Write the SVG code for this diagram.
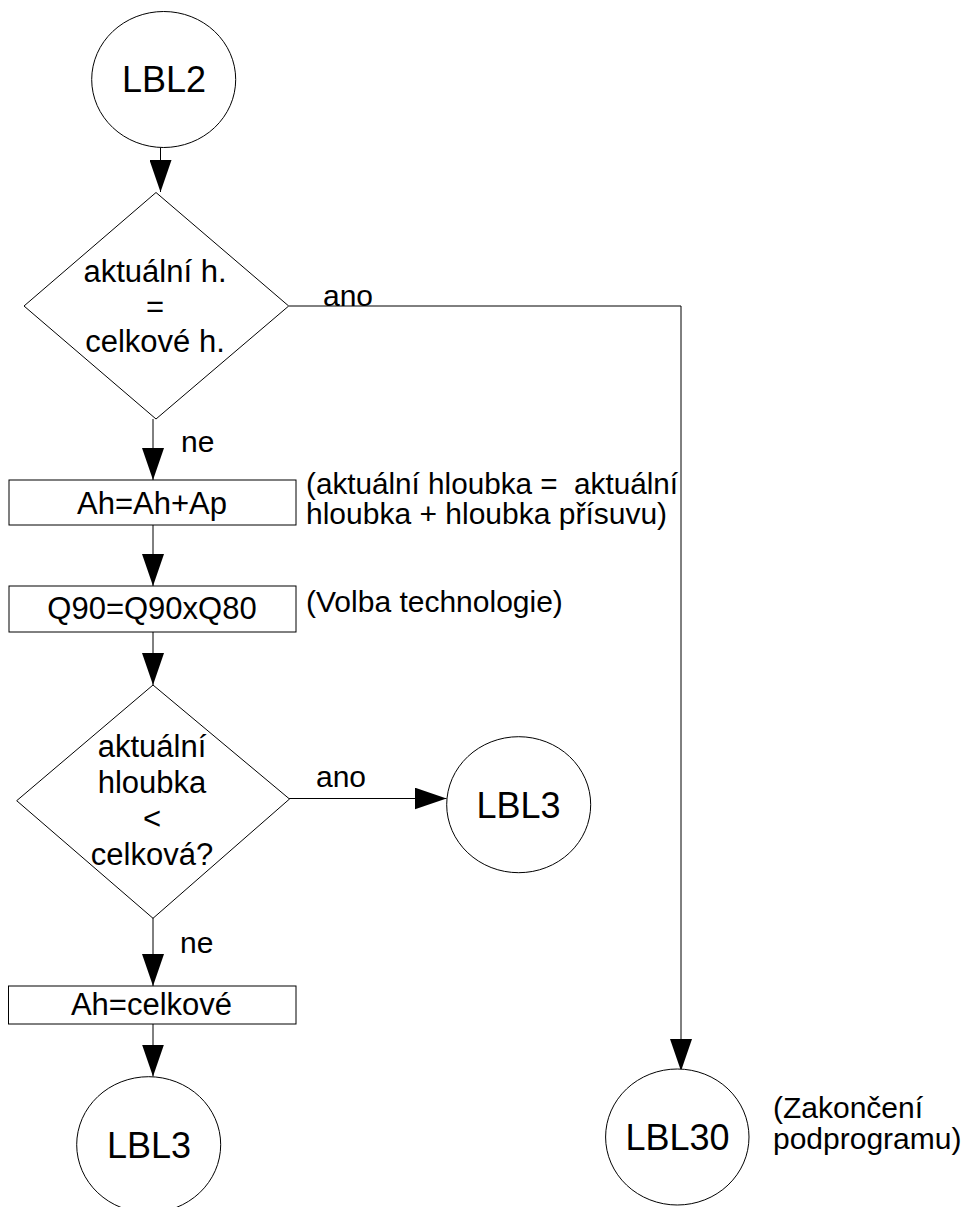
<svg xmlns="http://www.w3.org/2000/svg" width="964" height="1207" viewBox="0 0 964 1207">
  <style>
    .shape { fill: #ffffff; stroke: #000000; stroke-width: 1; }
    .wire { fill: none; stroke: #000000; stroke-width: 1; }
    text { font-family: "Liberation Sans", Arial, sans-serif; fill: #000000; }
    .lbl { font-size: 36px; text-anchor: middle; }
    .body { font-size: 31px; text-anchor: middle; }
    .tag { font-size: 30px; }
    .note { font-size: 30px; white-space: pre; }
  </style>
  <defs>
    <marker id="arrow" viewBox="0 0 32 22" refX="32" refY="11" markerWidth="32" markerHeight="22" markerUnits="userSpaceOnUse" orient="auto">
      <path d="M0,0 L32,11 L0,22 Z" fill="#000000"/>
    </marker>
  </defs>

  <!-- connectors -->
  <g id="connectors">
    <line class="wire" x1="160.5" y1="147.5" x2="160.5" y2="192" marker-end="url(#arrow)"/>
    <polyline class="wire" points="289,306 681,306 681,1071" marker-end="url(#arrow)"/>
    <line class="wire" x1="153" y1="419" x2="153" y2="480" marker-end="url(#arrow)"/>
    <line class="wire" x1="153" y1="525" x2="153" y2="586" marker-end="url(#arrow)"/>
    <line class="wire" x1="153" y1="632" x2="153" y2="685" marker-end="url(#arrow)"/>
    <line class="wire" x1="289" y1="798.5" x2="446.5" y2="798.5" marker-end="url(#arrow)"/>
    <line class="wire" x1="153" y1="918" x2="153" y2="986" marker-end="url(#arrow)"/>
    <line class="wire" x1="153" y1="1024" x2="153" y2="1076.5" marker-end="url(#arrow)"/>
    <text class="tag" x="323" y="305.5" font-size="31">ano</text>
    <text class="tag" x="181" y="452">ne</text>
    <text class="tag" x="316" y="786.5" font-size="31">ano</text>
    <text class="tag" x="180" y="953">ne</text>
  </g>

  <!-- start label -->
  <g id="lbl2">
    <ellipse class="shape" cx="163.7" cy="79.5" rx="72" ry="68"/>
    <text class="lbl" x="164" y="91.5">LBL2</text>
  </g>

  <!-- depth reached? -->
  <g id="decision-depth-equal">
    <polygon class="shape" points="156,192.5 288.7,306 156,419 24,306"/>
    <text class="body" x="155" y="281.5">aktuální h.</text>
    <text class="body" x="155" y="317">=</text>
    <text class="body" x="155" y="352">celkové h.</text>
  </g>

  <!-- increment depth -->
  <g id="step-increment">
    <rect class="shape" x="9" y="480" width="287" height="45"/>
    <text class="body" x="152" y="513.5">Ah=Ah+Ap</text>
    <text class="note" x="306" y="493.5" textLength="372" lengthAdjust="spacingAndGlyphs" xml:space="preserve">(aktuální hloubka =  aktuální</text>
    <text class="note" x="306" y="524">hloubka + hloubka přísuvu)</text>
  </g>

  <!-- technology selection -->
  <g id="step-technology">
    <rect class="shape" x="9" y="586" width="287" height="46"/>
    <text class="body" x="152" y="618.5">Q90=Q90xQ80</text>
    <text class="note" x="306" y="612">(Volba technologie)</text>
  </g>

  <!-- depth below total? -->
  <g id="decision-depth-less">
    <polygon class="shape" points="153,685 289.5,799 153,918.3 16.7,800.7"/>
    <text class="body" x="152" y="757">aktuální</text>
    <text class="body" x="152" y="793">hloubka</text>
    <text class="body" x="152" y="829">&lt;</text>
    <text class="body" x="152" y="865">celková?</text>
  </g>

  <!-- jump to LBL3 -->
  <g id="lbl3-right">
    <ellipse class="shape" cx="518.7" cy="804.7" rx="72" ry="68"/>
    <text class="lbl" x="518.5" y="818.3">LBL3</text>
  </g>

  <!-- clamp depth -->
  <g id="step-clamp">
    <rect class="shape" x="8.5" y="986" width="287.5" height="38"/>
    <text class="body" x="151.5" y="1015">Ah=celkové</text>
  </g>

  <!-- jump to LBL3 (bottom) -->
  <g id="lbl3-bottom">
    <ellipse class="shape" cx="148.7" cy="1144.7" rx="72" ry="68"/>
    <text class="lbl" x="149" y="1158.3">LBL3</text>
  </g>

  <!-- subroutine end -->
  <g id="lbl30">
    <ellipse class="shape" cx="677.3" cy="1137" rx="71.7" ry="68"/>
    <text class="lbl" x="677.5" y="1150">LBL30</text>
    <text class="note" x="773" y="1118">(Zakončení</text>
    <text class="note" x="773" y="1149">podprogramu)</text>
  </g>
</svg>
